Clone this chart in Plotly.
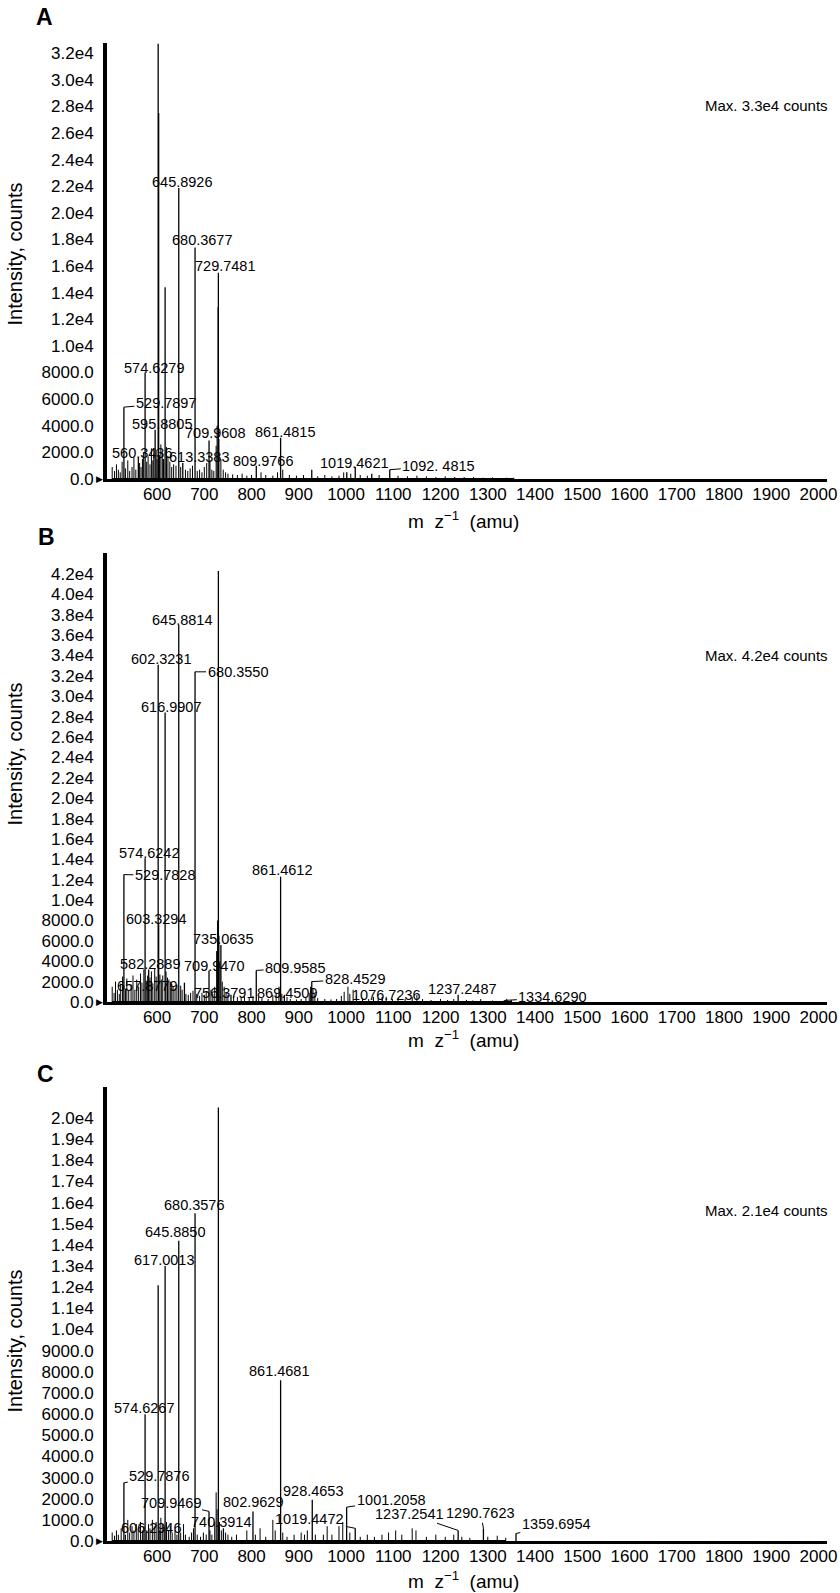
import plotly.graph_objects as go

W, H = 840, 1593
FONT = "Liberation Sans, Arial, Helvetica, sans-serif"

# ---------------- data ----------------
mz_ticks = list(range(600, 2001, 100))

A_yticks = list(range(0, 32001, 2000))
A_yticklabels = ["0.0", "2000.0", "4000.0", "6000.0", "8000.0", "1.0e4", "1.2e4", "1.4e4",
                 "1.6e4", "1.8e4", "2.0e4", "2.2e4", "2.4e4", "2.6e4", "2.8e4", "3.0e4", "3.2e4"]
B_yticks = list(range(0, 42001, 2000))
B_yticklabels = ["0.0", "2000.0", "4000.0", "6000.0", "8000.0", "1.0e4", "1.2e4", "1.4e4",
                 "1.6e4", "1.8e4", "2.0e4", "2.2e4", "2.4e4", "2.6e4", "2.8e4", "3.0e4", "3.2e4",
                 "3.4e4", "3.6e4", "3.8e4", "4.0e4", "4.2e4"]
C_yticks = list(range(0, 20001, 1000))
C_yticklabels = ["0.0", "1000.0", "2000.0", "3000.0", "4000.0", "5000.0", "6000.0", "7000.0",
                 "8000.0", "9000.0", "1.0e4", "1.1e4", "1.2e4", "1.3e4", "1.4e4", "1.5e4",
                 "1.6e4", "1.7e4", "1.8e4", "1.9e4", "2.0e4"]

# Panel A peaks
A_major_mz = [602.32, 603.33, 617.00, 645.89, 680.37, 729.75, 729.3, 574.63, 529.79, 595.88,
              709.96, 861.48, 560.34, 613.34, 809.98, 1019.46, 1092.48, 654.4, 927.4, 1001.5, 1054.4]
A_major_int = [32700, 27500, 14400, 21860, 17400, 15500, 12900, 8000, 5400, 3700,
               2900, 3100, 1600, 1500, 1000, 900, 700, 1200, 700, 500, 400]
A_minor_mz = [505, 510, 514, 518, 522, 526, 533, 538, 542, 547, 551, 555, 563, 566, 569, 571, 578,
              581, 585, 588, 591, 593, 598, 600, 605, 608, 611, 614, 620, 623, 627, 631, 635, 640,
              650, 660, 665, 670, 675, 685, 690, 695, 700, 705, 712, 716, 720, 725, 727, 731, 735,
              740, 745, 750, 760, 770, 780, 790, 800, 820, 830, 845, 855, 866, 880, 895, 910, 940,
              955, 970, 985, 995, 1010, 1030, 1045, 1070, 1110, 1130, 1150, 1170, 1190, 1210, 1230,
              1250, 1270, 1290, 1310, 1340, 1355]
A_minor_int = [900, 600, 1100, 700, 500, 1300, 800, 1400, 600, 900, 1600, 700, 1200, 900, 1500, 2000,
               1300, 1700, 1100, 2300, 1400, 1900, 2200, 1500, 1800, 2600, 2000, 1500, 2400, 1700,
               1300, 900, 1100, 1000, 900, 700, 600, 800, 1000, 600, 700, 500, 900, 1200, 1400, 700,
               600, 2500, 4000, 3000, 1500, 700, 500, 400, 350, 300, 400, 250, 300, 500, 300, 250,
               500, 700, 300, 250, 300, 200, 300, 200, 250, 500, 400, 300, 250, 300, 250, 200, 250,
               200, 150, 200, 150, 150, 150, 100, 120, 100, 100]
A_label_text = ["645.8926", "680.3677", "729.7481", "574.6279", "529.7897", "595.8805", "709.9608",
                "861.4815", "560.3436", "613.3383", "809.9766", "1019.4621", "1092. 4815"]
A_label_mz = [645.89, 680.37, 729.75, 574.63, 529.79, 595.88, 709.96, 861.48, 560.34, 613.34,
              809.98, 1019.46, 1092.48]
A_label_int = [21860, 17400, 15500, 8000, 5400, 3700, 2900, 3100, 1600, 1500, 1000, 900, 700]

# Panel B peaks
B_major_mz = [729.75, 645.88, 602.32, 680.36, 616.99, 574.62, 529.78, 861.46, 603.33, 735.06,
              582.29, 709.95, 809.96, 927.4, 657.88, 756.38, 869.45, 1076.72, 1237.25, 1334.63]
B_major_int = [42300, 37000, 33100, 32400, 28400, 14100, 12500, 12300, 7600, 5600,
               3200, 3100, 3100, 2000, 1900, 700, 700, 500, 700, 150]
B_minor_mz = [505, 509, 512, 516, 520, 523, 527, 533, 536, 540, 545, 549, 553, 557, 561, 565, 568,
              572, 577, 580, 585, 588, 591, 595, 598, 606, 609, 612, 619, 622, 625, 628, 631, 634,
              638, 642, 650, 653, 661, 666, 671, 676, 684, 690, 695, 700, 704, 714, 718, 722, 726,
              728, 731, 733, 738, 742, 746, 750, 762, 770, 778, 785, 795, 803, 815, 822, 835, 845,
              852, 858, 864, 875, 882, 895, 905, 915, 922, 925, 930, 934, 940, 955, 968, 980, 990,
              996, 1004, 1008, 1015, 1022, 1035, 1048, 1058, 1068, 1085, 1098, 1110, 1125, 1140,
              1150, 1162, 1180, 1200, 1215, 1228, 1255, 1268, 1285, 1310, 1340, 1350]
B_minor_int = [1500, 900, 2000, 1200, 800, 1800, 2500, 1300, 2300, 1100, 1700, 2600, 1200, 2200,
               1500, 2800, 1900, 3200, 2100, 2600, 2400, 3000, 1800, 3300, 2500, 2700, 2200, 2600,
               3000, 2400, 2200, 2000, 1800, 1500, 1300, 1700, 1600, 1200, 800, 700, 900, 1100, 800,
               600, 900, 700, 1000, 1200, 800, 1500, 5000, 8000, 6500, 4000, 2000, 1500, 900, 700,
               600, 500, 400, 500, 400, 600, 500, 400, 300, 700, 900, 1500, 800, 500, 300, 250, 300,
               400, 900, 1500, 1300, 800, 400, 300, 250, 300, 600, 1000, 1500, 800, 1200, 600, 400,
               300, 500, 400, 500, 300, 400, 300, 500, 700, 300, 200, 300, 200, 300, 200, 150, 300,
               150, 300, 200]
B_label_text = ["645.8814", "602.3231", "680.3550", "616.9907", "574.6242", "529.7828", "861.4612",
                "603.3294", "735.0635", "582.2889", "709.9470", "809.9585", "828.4529", "657.8779",
                "756.3791", "869.4509", "1076.7236", "1237.2487", "1334.6290"]
B_label_mz = [645.88, 602.32, 680.36, 616.99, 574.62, 529.78, 861.46, 603.33, 735.06, 582.29,
              709.95, 809.96, 927.4, 657.88, 756.38, 869.45, 1076.72, 1237.25, 1334.63]
B_label_int = [37000, 33100, 32400, 28400, 14100, 12500, 12300, 7600, 5600, 3200,
               3100, 3100, 2000, 1900, 700, 700, 500, 700, 150]

# Panel C peaks
C_major_mz = [729.75, 680.36, 645.89, 617.00, 602.32, 861.47, 574.63, 529.79, 928.47, 1001.21,
              802.96, 709.95, 740.39, 1019.45, 606.29, 1237.25, 1290.76, 1359.70]
C_major_int = [20500, 15500, 14200, 13000, 12100, 7600, 6000, 2750, 1950, 1600,
               1400, 1400, 600, 600, 500, 500, 600, 350]
C_minor_mz = [505, 510, 514, 518, 524, 533, 538, 542, 547, 551, 556, 560, 565, 569, 572, 578, 582,
              585, 590, 594, 598, 604, 608, 612, 615, 620, 624, 628, 632, 638, 642, 650, 656, 660,
              668, 673, 677, 685, 692, 698, 704, 712, 716, 722, 725, 727, 732, 736, 745, 750, 758,
              768, 790, 808, 818, 830, 845, 850, 866, 875, 890, 905, 912, 918, 935, 952, 960, 970,
              985, 993, 1008, 1030, 1045, 1060, 1076, 1090, 1105, 1118, 1140, 1148, 1170, 1190,
              1210, 1228, 1245, 1262, 1300, 1320, 1338]
C_minor_int = [400, 250, 500, 300, 600, 300, 1000, 400, 700, 500, 800, 600, 900, 500, 700, 500, 800,
               600, 1000, 700, 900, 600, 1100, 800, 600, 900, 500, 700, 400, 500, 300, 400, 800, 300,
               200, 400, 600, 300, 200, 400, 300, 500, 300, 900, 2300, 1500, 900, 500, 400, 300, 200,
               300, 500, 300, 600, 200, 1000, 500, 400, 200, 300, 400, 300, 500, 300, 300, 700, 300,
               700, 900, 400, 200, 300, 200, 300, 400, 500, 300, 600, 500, 200, 300, 200, 300, 200,
               150, 200, 250, 150]
C_label_text = ["680.3576", "645.8850", "617.0013", "861.4681", "574.6267", "529.7876", "928.4653",
                "1001.2058", "802.9629", "709.9469", "740.3914", "1019.4472", "606.2946",
                "1237.2541", "1290.7623", "1359.6954"]
C_label_mz = [680.36, 645.89, 617.00, 861.47, 574.63, 529.79, 928.47, 1001.21, 802.96, 709.95,
              740.39, 1019.45, 606.29, 1237.25, 1290.76, 1359.70]
C_label_int = [15500, 14200, 13000, 7600, 6000, 2750, 1950, 1600, 1400, 1400, 600, 600, 500,
               500, 600, 350]

max_texts = ["Max. 3.3e4 counts", "Max. 4.2e4 counts", "Max. 2.1e4 counts"]
panel_letters = ["A", "B", "C"]

# ---------------- layout / style (pixel geometry) ----------------
# label offsets (dx, dy) in px of label centre relative to peak top, and whether a leader line is drawn
A_label_off = [(3, -6, 0), (6.7, -7.4, 0), (6.7, -6.3, 0), (8.8, -5, 0), (42, -3.7, 1), (6.6, -5.8, 0),
               (6.2, -7.7, 0), (4.5, -6, 0), (3.4, -5, 0), (36, -2.3, 0), (6.6, -4.7, 0), (-1, -3.7, 0),
               (49, -3.7, 1)]
B_label_off = [(3.3, -5, 0), (3.2, -5.7, 0), (42.5, 0, 1), (5.5, -6, 0), (4, -5, 0), (41, 0.7, 1),
               (1.6, -6.7, 0), (-2.4, -6, 0), (1.7, -5.7, 0), (1.4, -5.7, 0), (4.8, -4, 0),
               (38.8, -2.3, 1), (43, -2.4, 1), (-37, 3, 0), (-7.4, -2.3, 0), (2.4, -2.3, 0),
               (3.7, -2.3, 0), (4.4, -5.7, 0), (48.7, -3, 1)]
C_label_off = [(-1.2, -8.3, 0), (-4, -8.3, 0), (-0.8, -5.7, 0), (-2, -9.3, 0), (-0.8, -6, 0),
               (35.4, -7, 1), (0.3, -8.3, 0), (44.4, -6.7, 1), (-0.4, -9, 0), (-38.5, -8.7, 1),
               (-2.8, -6.3, 0), (-45.5, -9, 1), (-9, -2, 0), (-49, -16.7, 1), (-2.6, -15, 1),
               (40.3, -10, 1)]

X_LEFT, X_RIGHT = 107, 827
panels = [
    dict(top=43, bottom=479, ymax=32760, yt=A_yticks, ytl=A_yticklabels,
         major=(A_major_mz, A_major_int), minor=(A_minor_mz, A_minor_int),
         labels=(A_label_text, A_label_mz, A_label_int), off=A_label_off,
         letter_xy=(44, 17), ytitle_y=254, xtitle_y=520, max_y=105),
    dict(top=553, bottom=1002, ymax=44060, yt=B_yticks, ytl=B_yticklabels,
         major=(B_major_mz, B_major_int), minor=(B_minor_mz, B_minor_int),
         labels=(B_label_text, B_label_mz, B_label_int), off=B_label_off,
         letter_xy=(46, 537), ytitle_y=754, xtitle_y=1039, max_y=655),
    dict(top=1087, bottom=1541, ymax=21470, yt=C_yticks, ytl=C_yticklabels,
         major=(C_major_mz, C_major_int), minor=(C_minor_mz, C_minor_int),
         labels=(C_label_text, C_label_mz, C_label_int), off=C_label_off,
         letter_xy=(45, 1074), ytitle_y=1341, xtitle_y=1580, max_y=1210),
]


def sticks(mz, inten):
    xs, ys = [], []
    for m, v in zip(mz, inten):
        xs += [m, m, None]
        ys += [0, v, None]
    return xs, ys


fig = go.Figure()
layout = dict(width=W, height=H, margin=dict(l=0, r=0, t=0, b=0, pad=0, autoexpand=False),
              autosize=False, paper_bgcolor="white", plot_bgcolor="white", showlegend=False,
              font=dict(family=FONT, color="black"))
annotations = []

for i, p in enumerate(panels):
    sfx = "" if i == 0 else str(i + 1)
    xa, ya = "x" + sfx, "y" + sfx
    dom_x = [X_LEFT / W, X_RIGHT / W]
    dom_y = [1 - p["bottom"] / H, 1 - p["top"] / H]
    layout["xaxis" + sfx] = dict(domain=dom_x, range=[494, 2018], anchor=ya, showline=True,
                                 linewidth=2.5, linecolor="black", showgrid=False, zeroline=False,
                                 automargin=False, tickvals=mz_ticks, ticks="outside", ticklen=2,
                                 ticklabelstandoff=-4,
                                 tickcolor="rgba(0,0,0,0)", tickfont=dict(size=17, family=FONT))
    layout["yaxis" + sfx] = dict(domain=dom_y, range=[0, p["ymax"]], anchor=xa, showline=True,
                                 linewidth=4, linecolor="black", showgrid=False, zeroline=False,
                                 automargin=False, tickvals=p["yt"], ticktext=p["ytl"],
                                 ticks="outside", ticklen=6,
                                 tickcolor="rgba(0,0,0,0)", tickfont=dict(size=17, family=FONT))
    # baseline of the recorded spectrum (spans the recorded noise range)
    nmz = p["minor"][0]
    fig.add_trace(go.Scatter(x=[min(nmz), max(nmz)], y=[0, 0], mode="lines",
                             line=dict(color="black", width=2), xaxis=xa, yaxis=ya, hoverinfo="skip"))
    mx, my = sticks(*p["minor"])
    fig.add_trace(go.Scatter(x=mx, y=my, mode="lines", line=dict(color="black", width=1),
                             xaxis=xa, yaxis=ya, hoverinfo="skip"))
    Mx, My = sticks(*p["major"])
    fig.add_trace(go.Scatter(x=Mx, y=My, mode="lines", line=dict(color="black", width=1.3),
                             xaxis=xa, yaxis=ya, hoverinfo="skip"))
    # peak labels
    texts, lmz, lint = p["labels"]
    for t, m, v, (dx, dy, arr) in zip(texts, lmz, lint, p["off"]):
        if arr:
            annotations.append(dict(x=m, y=v, xref=xa, yref=ya, text=t, showarrow=True,
                                    arrowhead=0, arrowwidth=1, arrowcolor="black", ax=dx, ay=dy,
                                    standoff=0, font=dict(size=14.5, family=FONT)))
        else:
            annotations.append(dict(x=m, y=v, xref=xa, yref=ya, text=t, showarrow=False,
                                    xanchor="center", yanchor="middle", xshift=dx, yshift=-dy,
                                    font=dict(size=14.5, family=FONT)))
    # zero marker triangle
    annotations.append(dict(x=X_LEFT / W - 0.002, y=0, xref="paper", yref=ya, text="▶",
                            showarrow=False, xanchor="right", yanchor="middle",
                            font=dict(size=9, family="DejaVu Sans")))
    # panel letter
    lx, ly = p["letter_xy"]
    annotations.append(dict(x=lx / W, y=1 - ly / H, xref="paper", yref="paper",
                            text="<b>%s</b>" % panel_letters[i],
                            showarrow=False, xanchor="center", yanchor="middle",
                            font=dict(size=23, family=FONT)))
    # axis titles
    annotations.append(dict(x=14.5 / W, y=1 - p["ytitle_y"] / H, xref="paper", yref="paper",
                            text="Intensity, counts", textangle=-90, showarrow=False,
                            xanchor="center", yanchor="middle", font=dict(size=20, family=FONT)))
    annotations.append(dict(x=463 / W, y=1 - p["xtitle_y"] / H, xref="paper", yref="paper",
                            text="m  z<sup>−1</sup>  (amu)", showarrow=False,
                            xanchor="center", yanchor="middle", font=dict(size=19, family=FONT)))
    annotations.append(dict(x=830 / W, y=1 - p["max_y"] / H, xref="paper", yref="paper",
                            text=max_texts[i], showarrow=False, xanchor="right", yanchor="middle",
                            font=dict(size=15, family=FONT)))

layout["annotations"] = annotations
fig.update_layout(**layout)
fig.write_html(
    "out.html",
    config={"displayModeBar": False},
    post_script=("document.documentElement.style.margin='0px';"
                 "document.documentElement.style.overflow='hidden';"
                 "document.body.style.margin='0px';"
                 "document.body.style.overflow='hidden';"
                 "window.scrollTo(0,0);"),
)
